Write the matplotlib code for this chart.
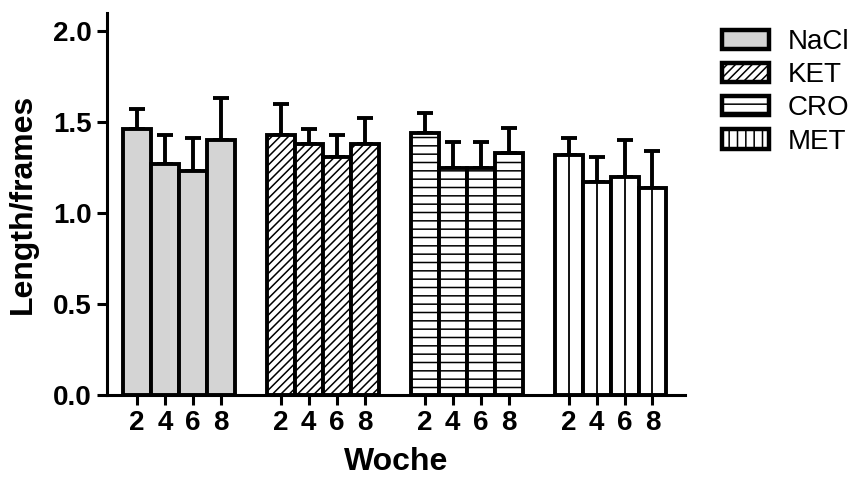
import matplotlib
matplotlib.use("Agg")
import matplotlib.pyplot as plt
from matplotlib.patches import Patch

# data
groups = ["NaCl", "KET", "CRO", "MET"]
weeks = ["2", "4", "6", "8"]
nacl = [1.46, 1.27, 1.23, 1.40]
ket = [1.43, 1.38, 1.31, 1.38]
cro = [1.44, 1.25, 1.25, 1.33]
met = [1.32, 1.17, 1.20, 1.14]
nacl_err = [0.11, 0.16, 0.18, 0.23]
ket_err = [0.17, 0.08, 0.12, 0.14]
cro_err = [0.11, 0.14, 0.14, 0.14]
met_err = [0.09, 0.14, 0.20, 0.20]

means = [nacl, ket, cro, met]
errs = [nacl_err, ket_err, cro_err, met_err]
colors = ["#d4d4d4", "white", "white", "white"]
hatches = [None, "////", "--", None]
legend_hatches = [None, "////", "--", "||"]

plt.rcParams["font.family"] = ["Liberation Sans", "DejaVu Sans"]
plt.rcParams["hatch.linewidth"] = 1.1

fig = plt.figure(figsize=(8.58, 4.79), dpi=100)
ax = fig.add_axes([0.1247, 0.1754, 0.6733, 0.7975])

step = 5.14
lw = 2.8
xs_all = []
for g in range(len(groups)):
    xs = [g * step + i for i in range(len(weeks))]
    xs_all += xs
    ax.bar(xs, means[g], width=1.0, color=colors[g], edgecolor="black",
           linewidth=lw, hatch=hatches[g], zorder=2)
    ax.errorbar(xs, means[g], yerr=[[0] * len(weeks), errs[g]], fmt="none",
                ecolor="black", elinewidth=lw, capsize=6, capthick=lw, zorder=1)
    if groups[g] == "MET":
        ax.vlines(xs, 0, means[g], color="black", linewidth=1.3, zorder=3)

ax.set_xlim(-1.07, 19.57)
ax.set_ylim(0, 2.1)
ax.set_yticks([0.0, 0.5, 1.0, 1.5, 2.0])
ax.set_yticklabels(["0.0", "0.5", "1.0", "1.5", "2.0"])
ax.set_xticks(xs_all)
ax.set_xticklabels(weeks * len(groups))

for lab in ax.get_xticklabels() + ax.get_yticklabels():
    lab.set_fontweight("bold")
    lab.set_fontsize(20)

ax.tick_params(axis="both", direction="out", length=7, width=2.2, pad=4)
ax.spines["top"].set_visible(False)
ax.spines["right"].set_visible(False)
ax.spines["left"].set_linewidth(2.2)
ax.spines["bottom"].set_linewidth(2.2)

ax.set_ylabel("Length/frames", fontsize=23, fontweight="bold", labelpad=11)
ax.set_xlabel("Woche", fontsize=23, fontweight="bold", labelpad=8)

handles = [Patch(facecolor=colors[g], edgecolor="black", linewidth=3.2,
                 hatch=legend_hatches[g], label=groups[g]) for g in range(len(groups))]
fig.legend(handles=handles, loc="upper left", bbox_to_anchor=(0.8124, 0.9916),
           frameon=False, fontsize=20, handlelength=1.7, handleheight=0.7,
           labelspacing=0.26, handletextpad=0.65)

fig.savefig("out.png", dpi=100)
